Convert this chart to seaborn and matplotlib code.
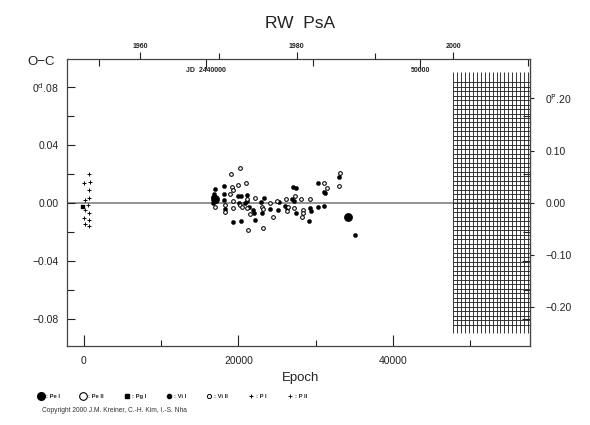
import numpy as np
import pandas as pd
import matplotlib
matplotlib.use("Agg")
import matplotlib.pyplot as plt
import seaborn as sns
from matplotlib.lines import Line2D

sns.set_style("white")
plt.rcParams['font.family'] = ['Liberation Sans', 'DejaVu Sans']

# ---------------- data (epoch, O-C in days) ----------------
vi1_epoch = [16920, 16740, 16800, 17050, 16700, 18120, 18160, 18160, 18290, 19900, 20320, 21060,
             20100, 20840, 21060, 21400, 21920, 22010, 22140, 19330, 20280, 22910, 23340, 23000,
             24080, 25280, 25150, 26020, 26240, 27060, 27400, 26960, 27220, 27400, 29130, 29260,
             29390, 30330, 31110, 30250, 31110, 31200, 33050, 35080]
vi1_oc = [0.0095, 0.0044, 0.0060, 0.0010, 0.0000, 0.0117, 0.0064, 0.0020, -0.0039, 0.0048, 0.0048, 0.0055,
          0.0002, -0.0002, 0.0016, -0.0030, -0.0048, -0.0067, -0.0117, -0.0133, -0.0122, 0.0009, 0.0032, -0.0067,
          -0.0044, 0.0009, -0.0048, -0.0021, -0.0037, 0.0108, 0.0101, 0.0025, 0.0016, -0.0071, -0.0124, -0.0037,
          -0.0053, -0.0025, -0.0021, 0.0136, 0.0078, 0.0067, 0.0177, -0.0221]

vi2_epoch = [16920, 18250, 18210, 18990, 20190, 19200, 19330, 18900, 19980, 20970, 19250, 20190,
             21140, 19250, 20410, 21060, 21490, 21270, 23210, 22140, 23000, 23210, 24080, 24420,
             25020, 26150, 26320, 27310, 26370, 27220, 28390, 28390, 28260, 29260, 28090, 31110,
             31420, 33140, 33050]
vi2_oc = [-0.0030, -0.0014, -0.0062, 0.0198, 0.0240, 0.0108, 0.0090, 0.0062, 0.0124, 0.0140, 0.0016, -0.0014,
          0.0025, -0.0037, -0.0025, -0.0037, -0.0076, -0.0186, -0.0175, 0.0032, -0.0025, -0.0044, 0.0002, -0.0094,
          0.0016, 0.0025, -0.0053, 0.0048, -0.0025, -0.0037, -0.0048, -0.0071, -0.0099, 0.0025, 0.0025, 0.0140,
          0.0101, 0.0205, 0.0119]

pe1_epoch = [16960, 34210]
pe1_oc = [0.0026, -0.0099]

pg1_epoch = [-90]
pg1_oc = [-0.0030]

p1_epoch = [690, 40, 780, 690, 90, 690, 690, 40, 690, 130, 690]
p1_oc = [0.0200, 0.0136, 0.0143, 0.0090, 0.0021, 0.0032, -0.0067, -0.0106, -0.0117, -0.0145, -0.0159]

p2_epoch = [130, 560]
p2_oc = [-0.0048, -0.0014]

# ephemeris used for the auxiliary axes
PERIOD = 0.3604
T0 = 2434308.2

x_major = [0, 20000, 40000]
x_minor = [10000, 30000, 50000]
y_major = [-0.08, -0.04, 0.0, 0.04, 0.08]
y_labels = ['\u22120.08', '\u22120.04', '0.00', '0.04', r'0$^{\rm d}$.08']
ph_major = [-0.2, -0.1, 0.0, 0.1, 0.2]
ph_labels = ['\u22120.20', '\u22120.10', '0.00', '0.10', r'0$^{\rm P}$.20']
jd_major = [2440000, 2450000]
jd_labels = ['JD  2440000', '50000']
jd_minor = [2435000, 2445000, 2455000]
yr_major = [1960, 1980, 2000]
yr_minor = [1970, 1990]


def e2jd(e):
    return T0 + PERIOD * np.asarray(e, dtype=float)


def jd2e(j):
    return (np.asarray(j, dtype=float) - T0) / PERIOD


def e2yr(e):
    return 2000.0 + (e2jd(e) - 2451544.5) / 365.25


def yr2e(y):
    return jd2e(2451544.5 + (np.asarray(y, dtype=float) - 2000.0) * 365.25)


fig = plt.figure(figsize=(5.9, 4.25), dpi=100)
ax = fig.add_axes([67 / 590, 1 - 346 / 425, (530 - 67) / 590, (346 - 59) / 425])
ax.set_xlim(-2200, 57735)
ax.set_ylim(-0.0987, 0.0993)

# zero line
ax.axhline(0, color='#8a8a8a', lw=1.3, zorder=0.5)

# hatched "future" region (after 2000)
yr_grid = np.arange(2000, 2010, 0.5)
ax.vlines(yr2e(yr_grid), -0.0897, 0.0904, color='#2a2a2a', lw=0.65, zorder=1)
ax.hlines(np.arange(-0.0840, 0.0860, 0.0031), yr2e(2000), 57735, color='#2a2a2a', lw=0.65, zorder=1)

common = dict(ax=ax, legend=False, zorder=3)
sns.scatterplot(x=pe1_epoch, y=pe1_oc, marker='o', s=34, color='black', edgecolor='black', **common)
sns.scatterplot(x=vi1_epoch, y=vi1_oc, marker='o', s=9, color='black', edgecolor='black', linewidth=0.3, **common)
sns.scatterplot(x=vi2_epoch, y=vi2_oc, marker='o', s=7, color='white', edgecolor='black', linewidth=0.75, **common)
sns.scatterplot(x=pg1_epoch, y=pg1_oc, marker='s', s=9, color='black', edgecolor='black', **common)
sns.scatterplot(x=p1_epoch, y=p1_oc, marker='+', s=10, color='black', linewidth=0.7, **common)
sns.scatterplot(x=p2_epoch, y=p2_oc, marker='+', s=6, color='black', linewidth=0.6, **common)

# axes styling
for sp in ax.spines.values():
    sp.set_color('#444444')
    sp.set_linewidth(0.9)
ax.spines['top'].set_visible(False)

ax.set_xticks(x_major)
ax.set_xticklabels(['0', '20000', '40000'])
ax.set_xticks(x_minor, minor=True)
ax.set_yticks(y_major)
ax.set_yticklabels(y_labels)
ax.set_yticks([-0.06, -0.02, 0.02, 0.06], minor=True)
ax.tick_params(axis='x', which='both', direction='in', top=False, bottom=True, labelsize=7.5, pad=7, colors='#222222')
ax.tick_params(axis='x', which='major', length=8, width=0.8)
ax.tick_params(axis='x', which='minor', length=4, width=0.8)
ax.tick_params(axis='y', which='both', direction='in', left=True, right=True, labelsize=7.5, pad=6, colors='#222222')
ax.tick_params(axis='y', which='major', length=6, width=0.8)
ax.tick_params(axis='y', which='minor', length=5, width=0.8)
ax.set_xlabel('')
ax.set_ylabel('')

# phase axis (right)
ph = ax.secondary_yaxis('right', functions=(lambda d: np.asarray(d) / PERIOD, lambda p: np.asarray(p) * PERIOD))
ph.set_yticks(ph_major)
ph.set_yticklabels(ph_labels)
ph.tick_params(direction='out', length=3, width=0.8, labelsize=7.5, pad=8, colors='#222222')
ph.spines['right'].set_color('#444444')

# JD axis (top, ticks in, labels inside)
jd = ax.secondary_xaxis('top', functions=(e2jd, jd2e))
jd.set_xticks(jd_major)
jd.set_xticklabels(jd_labels)
jd.set_xticks(jd_minor, minor=True)
jd.tick_params(which='both', direction='in', width=0.8, labelsize=5, pad=-11, colors='#222222')
jd.tick_params(which='major', length=7)
jd.tick_params(which='minor', length=5)
for t in jd.get_xticklabels():
    t.set_fontweight('bold')
jd.spines['top'].set_color('#444444')
jd.spines['top'].set_linewidth(0.9)

# year axis (top, ticks out)
yr = ax.secondary_xaxis('top', functions=(e2yr, yr2e))
yr.set_xticks(yr_major)
yr.set_xticklabels([str(v) for v in yr_major])
yr.set_xticks(yr_minor, minor=True)
yr.tick_params(which='both', direction='out', width=0.8, labelsize=5, pad=1.5, colors='#222222')
yr.tick_params(which='major', length=5)
yr.tick_params(which='minor', length=4)
for t in yr.get_xticklabels():
    t.set_fontweight('bold')
yr.spines['top'].set_visible(False)

# texts
fig.text(300 / 590, 1 - 24 / 425, 'RW  PsA', ha='center', va='center', fontsize=12.5, color='#222222')
fig.text(41 / 590, 1 - 62 / 425, 'O\u2212C', ha='center', va='center', fontsize=9.5, color='#222222')
fig.text(301 / 590, 1 - 378 / 425, 'Epoch', ha='center', va='center', fontsize=9.5, color='#222222')
fig.text(42 / 590, 1 - 411 / 425, 'Copyright 2000 J.M. Kreiner, C.-H. Kim, I.-S. Nha',
         ha='left', va='center', fontsize=4.8, color='#333333')

# legend
handles = [
    Line2D([], [], ls='', marker='o', ms=5.5, color='black'),
    Line2D([], [], ls='', marker='o', ms=5.5, mfc='white', mec='black', mew=0.8),
    Line2D([], [], ls='', marker='s', ms=3.0, color='black'),
    Line2D([], [], ls='', marker='o', ms=3.0, color='black'),
    Line2D([], [], ls='', marker='o', ms=3.0, mfc='white', mec='black', mew=0.7),
    Line2D([], [], ls='', marker='+', ms=3.2, color='black', mew=0.7),
    Line2D([], [], ls='', marker='+', ms=2.4, color='black', mew=0.6),
]
labels = [': Pe I', ': Pe II', ': Pg I', ': Vi I', ': Vi II', ': P I', ': P II']
leg = fig.legend(handles, labels, loc='center left', bbox_to_anchor=(38 / 590, 1 - 396 / 425), ncol=7,
                 frameon=False, fontsize=4.2, handlelength=1.0, handletextpad=0.4, columnspacing=3.4,
                 borderpad=0, borderaxespad=0)
for t in leg.get_texts():
    t.set_fontweight('bold')

fig.savefig('out.png', dpi=100)
